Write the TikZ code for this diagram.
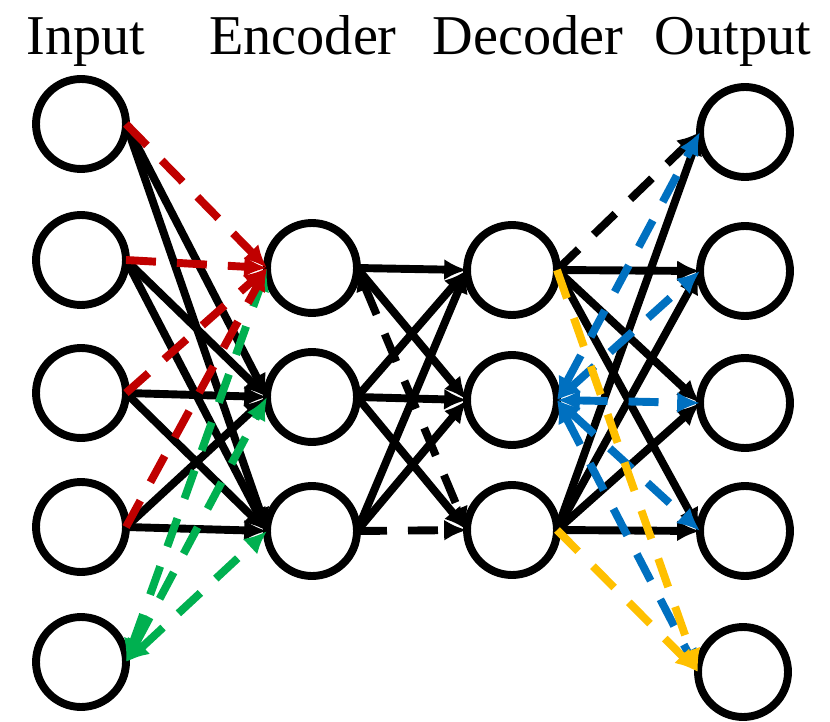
\documentclass[tikz,border=0pt]{standalone}
\usepackage{fontspec}
\setmainfont{Liberation Serif}
\usepackage{tikz}
\usepackage{tkz-graph}
\usetikzlibrary{arrows.meta}

\definecolor{netred}{HTML}{C00000}
\definecolor{netgreen}{HTML}{00B050}
\definecolor{netblue}{HTML}{0070C0}
\definecolor{netyellow}{HTML}{FFC000}

\tikzset{
  nethead/.tip={Latex[length=13pt,width=12pt]},
  netline/.style={line width=4.5pt,-nethead},
  netdash/.style={dash pattern=on 0.6cm off 0.42cm},
  title/.style={anchor=base,font=\fontsize{32}{36}\selectfont}
}

\begin{document}
\begin{tikzpicture}[x=0.02cm,y=-0.02cm]
            \useasboundingbox (0,0) rectangle (830,722);
            \node[title] (tin) at (86,55){Input};
            \node[title] (tenc) at (303,55){Encoder};
            \node[title] (tdec) at (528,55){Decoder};
            \node[title] (tout) at (733,55){Output};
            \GraphInit[vstyle=Classic];

            \SetVertexNormal[Shape=circle,MinSize=1.8cm,FillColor=white,LineColor=black,LineWidth=4.5pt]
            \Vertex[NoLabel,x=81,y=124]{i1};
            \Vertex[NoLabel,x=81,y=260]{i2};
            \Vertex[NoLabel,x=81,y=393]{i3};
            \Vertex[NoLabel,x=81,y=527]{i4};
            \Vertex[NoLabel,x=81,y=662]{i5};

            \Vertex[NoLabel,x=312,y=268]{e1};
            \Vertex[NoLabel,x=312,y=397]{e2};
            \Vertex[NoLabel,x=312,y=531]{e3};

            \Vertex[NoLabel,x=512,y=270]{d1};
            \Vertex[NoLabel,x=512,y=400]{d2};
            \Vertex[NoLabel,x=512,y=530]{d3};

            \Vertex[NoLabel,x=745,y=132]{o1};
            \Vertex[NoLabel,x=745,y=271]{o2};
            \Vertex[NoLabel,x=745,y=403]{o3};
            \Vertex[NoLabel,x=745,y=531]{o4};
            \Vertex[NoLabel,x=743,y=672]{o5};

            \tikzset{EdgeStyle/.style={netline,black}};
            \Edge(i1.east)(e2.west);
            \Edge(i1.east)(e3.west);
            \Edge(i2.east)(e2.west);
            \Edge(i2.east)(e3.west);
            \Edge(i3.east)(e2.west);
            \Edge(i3.east)(e3.west);
            \Edge(i4.east)(e2.west);
            \Edge(i4.east)(e3.west);

            \Edge(e1.east)(d1.west);
            \Edge(e1.east)(d2.west);
            \Edge(e2.east)(d1.west);
            \Edge(e2.east)(d2.west);
            \Edge(e2.east)(d3.west);
            \Edge(e3.east)(d1.west);
            \Edge(e3.east)(d2.west);

            \Edge(d1.east)(o2.west);
            \Edge(d1.east)(o3.west);
            \Edge(d1.east)(o4.west);
            \Edge(d3.east)(o1.west);
            \Edge(d3.east)(o2.west);
            \Edge(d3.east)(o3.west);
            \Edge(d3.east)(o4.west);

            \tikzset{EdgeStyle/.append style={netdash}};
            \Edge(e3.east)(d3.west);
            \Edge(d1.east)(o1.west);
            \tikzset{EdgeStyle/.append style={nethead-nethead}};
            \Edge(e1.east)(d3.west);

            \tikzset{EdgeStyle/.append style={netgreen}};
            \Edge(i5.east)(e1.west);
            \Edge(i5.east)(e2.west);
            \Edge(i5.east)(e3.west);

            \tikzset{EdgeStyle/.style={netline,netdash,netred}};
            \Edge(i1.east)(e1.west);
            \Edge(i2.east)(e1.west);
            \Edge(i3.east)(e1.west);
            \Edge(i4.east)(e1.west);

            \tikzset{EdgeStyle/.append style={netblue,nethead-nethead}};
            \Edge(d2.east)(o1.west);
            \Edge(d2.east)(o2.west);
            \Edge(d2.east)(o3.west);
            \Edge(d2.east)(o4.west);
            \Edge(d2.east)(o5.west);

            \tikzset{EdgeStyle/.style={netline,netdash,netyellow}};
            \Edge(d1.east)(o5.west);
            \Edge(d3.east)(o5.west);
          \end{tikzpicture}
\end{document}
